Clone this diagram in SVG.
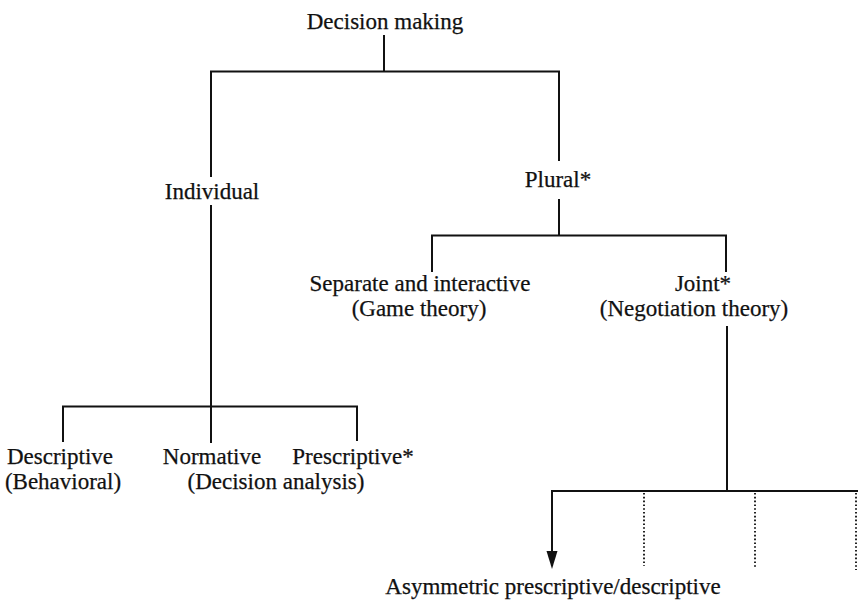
<svg xmlns="http://www.w3.org/2000/svg" width="863" height="604" viewBox="0 0 863 604">
  <style>
    .lbl { font-family: "Liberation Serif", "Times New Roman", serif; font-size: 23px; fill: #111; text-anchor: middle; stroke: #111; stroke-width: 0.25; }
    .ln { stroke: #111; stroke-width: 2; fill: none; stroke-linecap: square; }
    .dot { stroke: #222; stroke-width: 2; fill: none; stroke-dasharray: 1.6 2.2; }
    .head { fill: #111; }
  </style>
  <rect width="863" height="604" fill="#fff"/>

  <g id="connectors">
    <!-- root fan-out -->
    <path class="ln" d="M384,36 V71.5 M211,71.5 H559 M211,71.5 V176 M559,71.5 V160"/>
    <!-- individual branch -->
    <path class="ln" d="M211,206 V406.5 M63,406.5 H357 M63,406.5 V441 M211,406.5 V442 M357,406.5 V440"/>
    <!-- plural branch -->
    <path class="ln" d="M559,200 V235.5 M432,235.5 H726 M432,235.5 V271 M726,235.5 V271"/>
    <!-- joint branch -->
    <path class="ln" d="M727,327 V491 M552,491 H857 M552,491 V553"/>
    <polygon class="head" points="546.5,551 557.5,551 552,569"/>
    <path class="dot" d="M644,493 V566 M755,493 V569 M856,493 V570"/>
  </g>

  <g id="decision-making">
    <text class="lbl" x="385" y="29">Decision making</text>
  </g>
  <g id="individual">
    <text class="lbl" x="212" y="199">Individual</text>
  </g>
  <g id="plural">
    <text class="lbl" x="558" y="187">Plural*</text>
  </g>
  <g id="separate">
    <text class="lbl" x="420" y="291">Separate and interactive</text>
    <text class="lbl" x="419" y="316">(Game theory)</text>
  </g>
  <g id="joint">
    <text class="lbl" x="703" y="291">Joint*</text>
    <text class="lbl" x="694" y="316">(Negotiation theory)</text>
  </g>
  <g id="descriptive">
    <text class="lbl" x="60" y="464">Descriptive</text>
    <text class="lbl" x="63" y="489">(Behavioral)</text>
  </g>
  <g id="normative">
    <text class="lbl" x="212" y="464">Normative</text>
  </g>
  <g id="prescriptive">
    <text class="lbl" x="353" y="464">Prescriptive*</text>
  </g>
  <g id="decision-analysis">
    <text class="lbl" x="276" y="489">(Decision analysis)</text>
  </g>
  <g id="asymmetric">
    <text class="lbl" x="553" y="594">Asymmetric prescriptive/descriptive</text>
  </g>
</svg>
